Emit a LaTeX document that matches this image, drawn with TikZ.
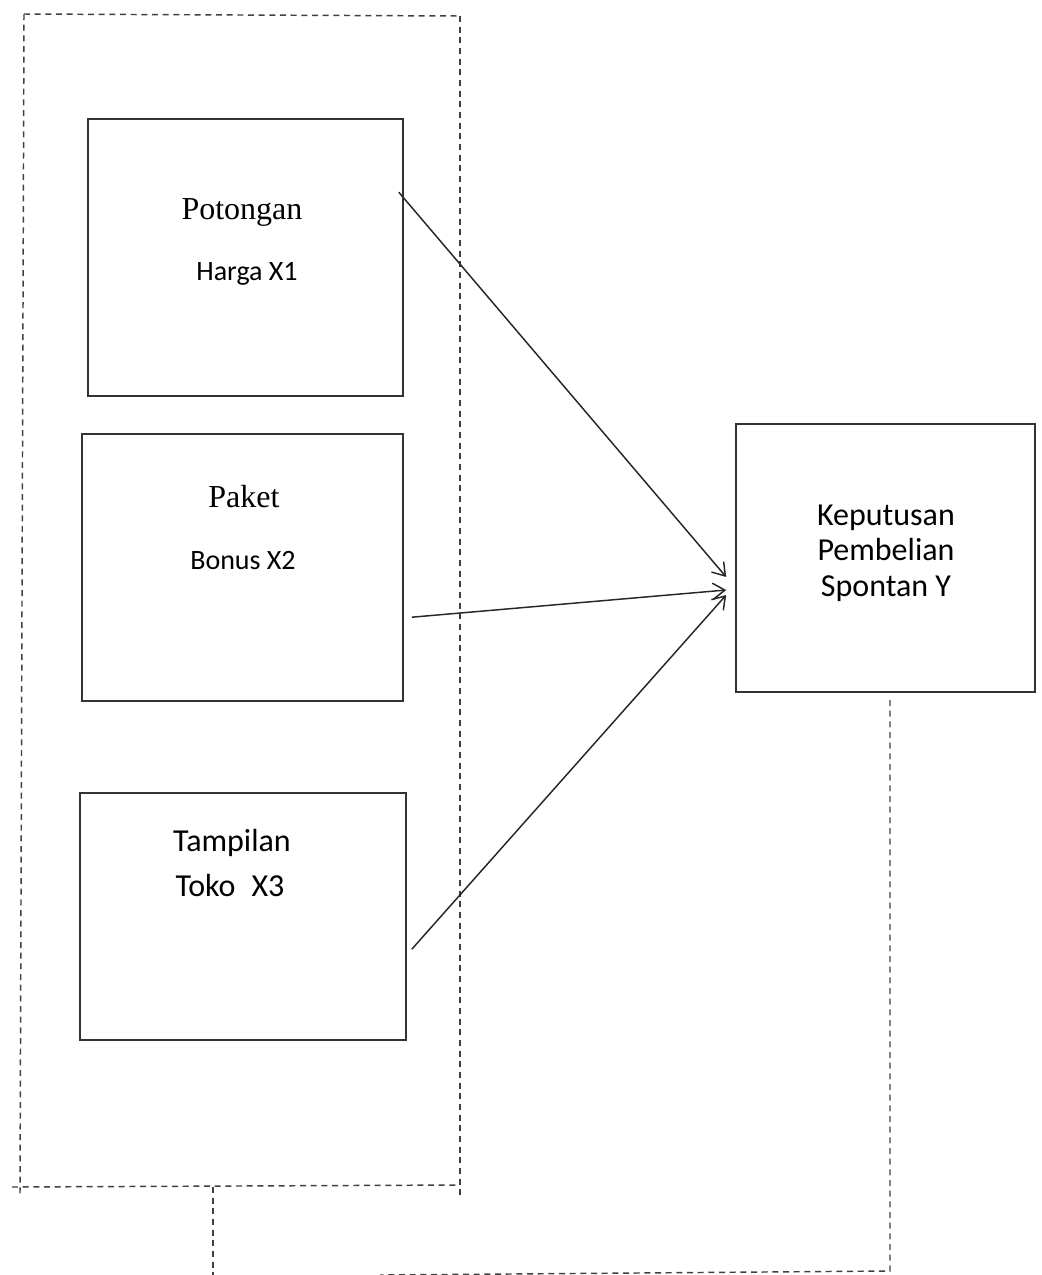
\documentclass[tikz,border=0pt]{standalone}
\usepackage{fontspec}
\setmainfont{Liberation Serif}
\newfontfamily\calfont{Carlito}
\usetikzlibrary{arrows.meta,calc}
\begin{document}
\begin{tikzpicture}[x=0.75pt,y=-0.75pt,
  box/.style={draw=black!80,line width=1.2pt,inner sep=0pt,fill=none},
  dsh/.style={draw=black!75,line width=1.1pt,dash pattern=on 4.5pt off 3.5pt},
  arr/.style={draw=black!85,line width=1.1pt,-{Straight Barb[length=9pt,width=12pt,line width=1.1pt]}},
  ser/.style={font=\fontsize{24}{26}\selectfont,inner sep=0pt},
  cal/.style={font=\calfont\fontsize{21}{26}\selectfont,inner sep=0pt,align=center},
  calb/.style={font=\calfont\fontsize{24}{26.5}\selectfont,inner sep=0pt,align=center}]
\useasboundingbox (0,0) rectangle (1042,1275);
% boxes
\node[box,minimum width=315*0.75pt,minimum height=277*0.75pt] (b1) at (245.5,257.5) {};
\node[box,minimum width=321*0.75pt,minimum height=267*0.75pt] (b2) at (242.5,567.5) {};
\node[box,minimum width=326*0.75pt,minimum height=247*0.75pt] (b3) at (243,916.5) {};
\node[box,minimum width=299*0.75pt,minimum height=268*0.75pt] (y) at (885.5,558) {};
% texts
\node[ser] (t1a) at (242,212) {Potongan};
\node[cal] (t1b) at (247,274) {Harga X1};
\node[ser] (t2a) at (244,497) {Paket};
\node[cal] (t2b) at (243,561) {Bonus X2};
\node[calb] (t3a) at (232,843) {Tampilan};
\node[calb] (t3b) at (230,885) {Toko\; X3};
\node[calb] (ty) at (886,553) {Keputusan\\Pembelian\\Spontan Y};
% dashed frame
\coordinate (tl) at (24,14);
\coordinate (tr) at (460,16);
\coordinate (br) at (460,1198);
\coordinate (bl) at (12,1187);
\coordinate (bll) at (20,1195);
\coordinate (brr) at (460,1185);
\coordinate (m1) at (213,1187);
\coordinate (m2) at (213,1275);
\coordinate (r1) at (890,700);
\coordinate (r2) at (890,1271);
\coordinate (r3) at (380,1275);
\draw[dsh] (tl) -- (tr);
\draw[dsh] (tr) -- (br);
\draw[dsh] (tl) -- (bll);
\draw[dsh] (bl) -- (brr);
\draw[dsh] (m1) -- (m2);
\draw[dsh] (r1) -- (r2) -- (r3);
% arrows
\coordinate (a1) at ($(b1.north east)+(-5,74)$);
\coordinate (a2) at ($(b2.north east)+(8,184)$);
\coordinate (a3) at ($(b3.north east)+(5,157)$);
\draw[arr] (a1) -- ($(y.west)+(-9,19)$);
\draw[arr] (a2) -- ($(y.west)+(-9,32)$);
\draw[arr] (a3) -- ($(y.west)+(-9,37)$);
\end{tikzpicture}
\end{document}
